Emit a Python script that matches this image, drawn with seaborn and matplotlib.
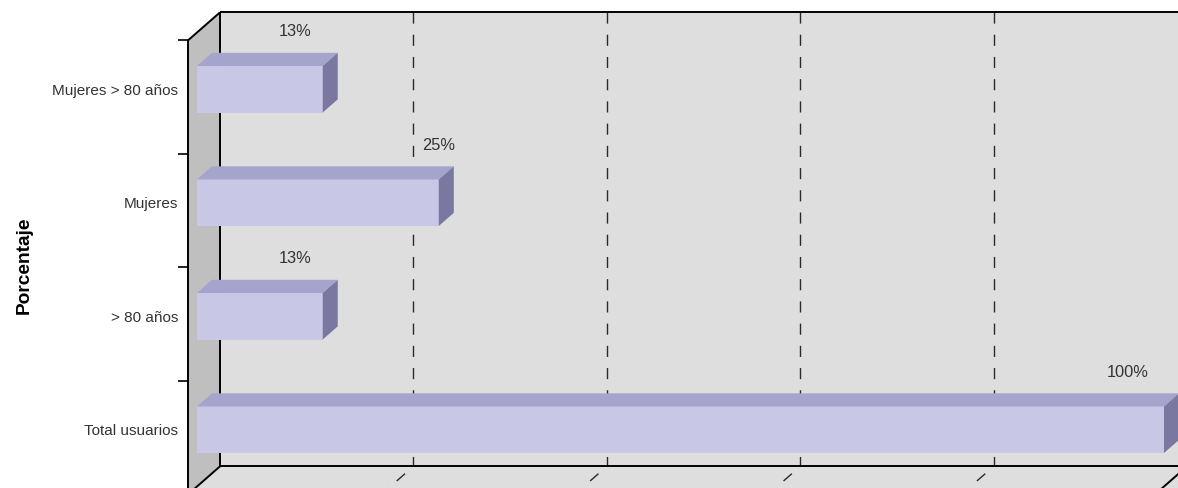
import matplotlib
matplotlib.use("Agg")
import matplotlib.pyplot as plt
import seaborn as sns
import numpy as np
from matplotlib import font_manager
from matplotlib.patches import Polygon
from matplotlib.transforms import IdentityTransform

categories = ["Mujeres > 80 años", "Mujeres", "> 80 años", "Total usuarios"]
values = [13, 25, 13, 100]
value_labels = ["13%", "25%", "13%", "100%"]
grid_ticks = [20, 40, 60, 80]

# Excel places the value labels a bit irregularly (pixels)
label_nudge = [-28, 0, -28, -36]

FRONT = "#c8c8e6"
TOP = "#a4a4cc"
SIDE = "#7a78a0"
WALL = "#dedede"
SIDEWALL = "#bfbfbf"
TEXT = "#333333"

sns.set_theme(style="white")

# the original text is tall and narrow: use a narrow face when there is one
installed = {f.name for f in font_manager.fontManager.ttflist}
if "Liberation Sans Narrow" in installed:
    family = ["Liberation Sans Narrow", "DejaVu Sans"]
    tick_size, value_size, ylab_size = 13.5, 14.5, 16.5
else:
    family = ["Liberation Sans", "DejaVu Sans"]
    tick_size, value_size, ylab_size = 11, 11.8, 13.8
plt.rcParams["font.family"] = family

W, H = 1178, 488
fig = plt.figure(figsize=(W / 100, H / 100), dpi=100)
# axes = front plane of the bars
ax = fig.add_axes([197 / W, 1.5 / H, 967 / W, 454 / H])
sns.barplot(x=values, y=categories, orient="h", width=0.41, color=FRONT,
            saturation=1, linewidth=0, ax=ax, zorder=3)
bars = list(ax.patches)
ax.set_xlim(0, 100)
ax.set_ylim(3.5, -0.5)
ax.set_autoscale_on(False)
ax.set_facecolor("none")
for s in ax.spines.values():
    s.set_visible(False)
ax.set_xticks([])
ax.set_xlabel("")
ax.tick_params(axis="y", length=0, pad=13.5, labelsize=tick_size, labelcolor=TEXT)
ax.set_ylabel("Porcentaje", fontsize=ylab_size, fontweight="bold", color="black")
ax.yaxis.set_label_coords(-0.170, 0.487)

# oblique depth vector in pixels (display coords, y up)
DEPTH = np.array([32.0, 28.0])
K_FRONT = -0.28   # front (axis) plane relative to bar front
K_BACK = 0.72     # back wall
K_BAR = 0.47      # bar depth


def P(x, y, k):
    return ax.transData.transform((x, y)) + k * DEPTH


ident = IdentityTransform()


def poly(pts, color, z):
    ax.add_patch(Polygon(np.array(pts), closed=True, facecolor=color,
                         edgecolor="none", transform=ident, clip_on=False, zorder=z))


def seg(a, b, z=1, **kw):
    ax.plot([a[0], b[0]], [a[1], b[1]], transform=ident, clip_on=False,
            zorder=z, solid_capstyle="butt", **kw)


y0, y1 = -0.5, 3.5
xr = 110
# walls and floor
poly([P(0, y0, K_FRONT), P(0, y0, K_BACK), P(0, y1, K_BACK), P(0, y1, K_FRONT)], SIDEWALL, 0.1)
poly([P(0, y0, K_BACK), P(xr, y0, K_BACK), P(xr, y1, K_BACK), P(0, y1, K_BACK)], WALL, 0.1)
poly([P(0, y1, K_FRONT), P(0, y1, K_BACK), P(xr, y1, K_BACK), P(xr, y1, K_FRONT)], WALL, 0.1)

# gridlines on back wall and floor
for g in grid_ticks:
    seg(P(g, y0, K_BACK), P(g, y1, K_BACK), 0.5, color="#2a2a2a", lw=1.0,
        linestyle=(0, (8, 8)))
    seg(P(g, y1, K_BACK), P(g, y1, K_FRONT), 0.5, color="#2a2a2a", lw=1.0,
        linestyle=(8, (8, 8)))

# box edges
edge = dict(color="black", lw=1.4)
seg(P(0, y0, K_BACK), P(xr, y0, K_BACK), 1, **edge)
seg(P(0, y1, K_BACK), P(xr, y1, K_BACK), 1, **edge)
seg(P(0, y0, K_BACK), P(0, y1, K_BACK), 1, **edge)
seg(P(0, y0, K_FRONT), P(0, y1, K_FRONT), 1, **edge)
seg(P(0, y0, K_FRONT), P(0, y0, K_BACK), 1, **edge)
seg(P(0, y1, K_FRONT), P(0, y1, K_BACK), 1, **edge)
seg(P(100, y1, K_FRONT), P(100, y1, K_BACK), 1, **edge)

# category tick marks on the front axis
for b in np.arange(len(categories)) - 0.5:
    a = P(0, b, K_FRONT)
    seg(a, a - np.array([10, 0]), 1, color="black", lw=1.2)

# 3D faces of the bars
for i, p in enumerate(bars):
    bx0 = p.get_x()
    bx1 = bx0 + p.get_width()
    ytop = p.get_y()
    ybot = ytop + p.get_height()
    poly([P(bx0, ytop, 0), P(bx1, ytop, 0), P(bx1, ytop, K_BAR), P(bx0, ytop, K_BAR)], TOP, 3)
    poly([P(bx1, ytop, 0), P(bx1, ybot, 0), P(bx1, ybot, K_BAR), P(bx1, ytop, K_BAR)], SIDE, 3)
    ax.annotate(value_labels[i], xy=(bx1, ytop), xytext=(label_nudge[i] * 0.72, 24.5),
                textcoords="offset points", ha="center", va="center",
                fontsize=value_size, color=TEXT, annotation_clip=False, zorder=4)

fig.savefig("out.png", dpi=100)
